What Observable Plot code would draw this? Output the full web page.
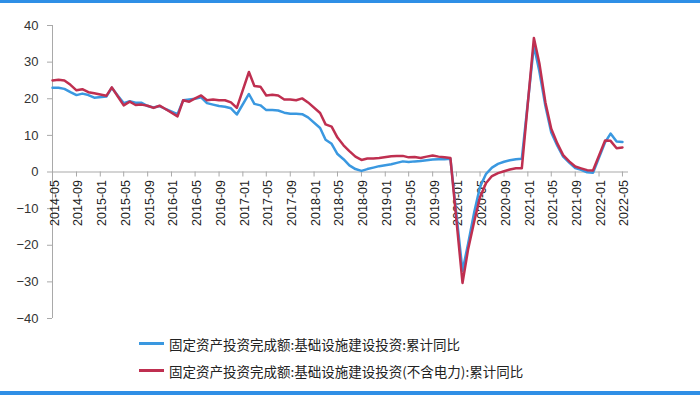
<!DOCTYPE html>
<html><head><meta charset="utf-8">
<script src="https://cdn.jsdelivr.net/npm/d3@7"></script>
<script src="https://cdn.jsdelivr.net/npm/@observablehq/plot@0.6"></script>
<style>
html,body{margin:0;padding:0;background:#fff;width:700px;height:395px;overflow:hidden;position:relative;font-family:"Liberation Sans",Arial,sans-serif;}
#topbar{position:absolute;left:0;top:0;width:700px;height:3px;background:#2f8fe6;}
#botbar{position:absolute;left:0;top:391px;width:700px;height:4px;background:#2f8fe6;}
#chart{position:absolute;left:0;top:0;}
#legend{position:absolute;left:139px;top:330px;font-family:"Noto Sans CJK SC",sans-serif;font-size:13.5px;color:#222;}
.item{display:flex;align-items:center;height:27px;white-space:nowrap;}
.sw{width:25px;height:3px;margin-right:5px;}
</style>
</head><body>
<div id="topbar"></div>
<div id="chart"></div>
<div id="legend"></div>
<div id="botbar"></div>
<script>
// Months (no January data in source)
const months = [
"2014-05","2014-06","2014-07","2014-08","2014-09","2014-10","2014-11","2014-12",
"2015-02","2015-03","2015-04","2015-05","2015-06","2015-07","2015-08","2015-09","2015-10","2015-11","2015-12",
"2016-02","2016-03","2016-04","2016-05","2016-06","2016-07","2016-08","2016-09","2016-10","2016-11","2016-12",
"2017-02","2017-03","2017-04","2017-05","2017-06","2017-07","2017-08","2017-09","2017-10","2017-11","2017-12",
"2018-02","2018-03","2018-04","2018-05","2018-06","2018-07","2018-08","2018-09","2018-10","2018-11","2018-12",
"2019-02","2019-03","2019-04","2019-05","2019-06","2019-07","2019-08","2019-09","2019-10","2019-11","2019-12",
"2020-02","2020-03","2020-04","2020-05","2020-06","2020-07","2020-08","2020-09","2020-10","2020-11","2020-12",
"2021-02","2021-03","2021-04","2021-05","2021-06","2021-07","2021-08","2021-09","2021-10","2021-11","2021-12",
"2022-02","2022-03","2022-04","2022-05"];

// 固定资产投资完成额:基础设施建设投资:累计同比
const infra = [
23.0,23.0,22.7,21.8,21.0,21.4,21.0,20.3,
20.6,23.0,20.8,18.8,19.3,18.9,18.9,18.0,17.6,18.0,17.2,
15.8,19.6,19.8,20.0,20.4,18.8,18.4,18.0,17.8,17.4,15.7,
21.3,18.6,18.2,16.9,16.9,16.8,16.2,15.9,15.9,15.8,14.9,
12.0,8.8,7.7,4.9,3.5,1.8,0.8,0.3,0.8,1.2,1.6,
2.1,2.5,2.9,2.7,2.9,3.0,3.2,3.4,3.5,3.5,3.6,
-27.0,-19.5,-11.0,-4.0,-0.5,1.2,2.2,2.8,3.2,3.5,3.6,
34.5,27.5,18.0,10.8,7.2,4.2,2.6,1.1,0.6,-0.1,-0.2,
8.1,10.5,8.3,8.2];

// 固定资产投资完成额:基础设施建设投资(不含电力):累计同比
const infraExPower = [
25.0,25.2,25.0,23.8,22.3,22.6,21.8,21.5,
20.8,23.1,20.6,18.2,19.2,18.3,18.4,18.1,17.5,18.1,17.2,
15.2,19.6,19.2,20.1,20.9,19.6,19.8,19.6,19.6,19.0,17.5,
27.3,23.5,23.3,20.9,21.1,20.9,19.8,19.8,19.6,20.1,19.0,
16.1,13.0,12.4,9.4,7.3,5.7,4.2,3.3,3.7,3.7,3.8,
4.3,4.4,4.4,4.0,4.1,3.8,4.2,4.5,4.2,4.0,3.8,
-30.3,-21.0,-13.5,-6.8,-3.0,-1.1,-0.3,0.2,0.7,1.0,1.0,
36.6,29.7,19.0,11.8,7.8,4.6,2.9,1.5,1.0,0.5,0.4,
8.6,8.5,6.5,6.7];

const seriesNames = [
"固定资产投资完成额:基础设施建设投资:累计同比",
"固定资产投资完成额:基础设施建设投资(不含电力):累计同比"];
const seriesColors = ["#3a98e0","#bf2f50"];

const tickLabels = ["2014-05","2014-09","2015-01","2015-05","2015-09","2016-01","2016-05","2016-09",
"2017-01","2017-05","2017-09","2018-01","2018-05","2018-09","2019-01","2019-05","2019-09",
"2020-01","2020-05","2020-09","2021-01","2021-05","2021-09","2022-01","2022-05"];
const yTicks = [-40,-30,-20,-10,0,10,20,30,40];
const xDomainLabels = ["2014-05","2022-06"];

const parse = d3.utcParse("%Y-%m");
const rowsA = months.map((m,i)=>({date: parse(m), value: infra[i]}));
const rowsB = months.map((m,i)=>({date: parse(m), value: infraExPower[i]}));
const tickDates = tickLabels.map(parse);
const fmt = d3.utcFormat("%Y-%m");
const axisGray = "#a9a9a9";

const chart = Plot.plot({
  width: 700, height: 330,
  marginLeft: 52, marginRight: 72, marginTop: 25, marginBottom: 12,
  style: {background: "transparent", fontFamily: "'Liberation Sans', Arial, sans-serif", color: "#333"},
  x: {type: "utc", domain: xDomainLabels.map(parse), axis: null},
  y: {domain: [yTicks[0], yTicks[yTicks.length-1]], axis: null},
  marks: [
    Plot.ruleY([0], {stroke: axisGray, strokeWidth: 1}),
    Plot.ruleX([tickDates[0]], {y1: yTicks[0], y2: yTicks[yTicks.length-1], stroke: axisGray}),
    Plot.ruleX(tickDates, {x: d=>d, y1: 0, y2: 0, insetBottom: -5, stroke: axisGray}),
    Plot.axisY({ticks: yTicks, tickSize: 5, tickPadding: 9, fontSize: 13, label: null, stroke: axisGray, fill: "#333"}),
    Plot.text(tickDates, {x: d=>d, y: 0, text: d=>fmt(d), rotate: -90, textAnchor: "end", dy: 8, dx: 2, fontSize: 12.5, fill: "#222"}),
    Plot.line(rowsA, {x: "date", y: "value", stroke: seriesColors[0], strokeWidth: 2.5}),
    Plot.line(rowsB, {x: "date", y: "value", stroke: seriesColors[1], strokeWidth: 2.5})
  ]
});
document.getElementById("chart").appendChild(chart);

const legend = document.getElementById("legend");
seriesNames.forEach((n,i)=>{
  const it = document.createElement("div"); it.className = "item";
  const sw = document.createElement("div"); sw.className = "sw"; sw.style.background = seriesColors[i];
  const tx = document.createElement("span"); tx.textContent = n;
  it.appendChild(sw); it.appendChild(tx); legend.appendChild(it);
});
</script>
</body></html>
